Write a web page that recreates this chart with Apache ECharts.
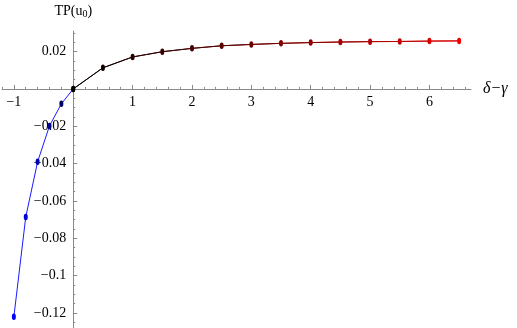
<!DOCTYPE html>
<html>
<head>
<meta charset="utf-8">
<script src="https://cdn.jsdelivr.net/npm/echarts@6/dist/echarts.min.js"></script>
<style>
  html, body { margin: 0; padding: 0; background: #fff; }
  #chart { width: 517px; height: 328px; }
</style>
</head>
<body>
<div id="chart"></div>
<script>
// δ-γ values and TP(u0)
const negX = [-1, -0.8, -0.6, -0.4, -0.2, 0]
const negY = [-0.122, -0.0686, -0.039, -0.0198, -0.008, 0]
const posX = [0, 0.5, 1, 1.5, 2, 2.5, 3, 3.5, 4, 4.5, 5, 5.5, 6, 6.5]
const posY = [0, 0.0113, 0.0171, 0.0199, 0.0217, 0.0231, 0.0238, 0.0244, 0.0248, 0.0251, 0.0253, 0.0254, 0.0256, 0.0257]

// tick labels
const xTicks = [-1, 0, 1, 2, 3, 4, 5, 6]
const xLabels = [-1, 1, 2, 3, 4, 5, 6]
const yTicks = [-0.12, -0.1, -0.08, -0.06, -0.04, -0.02, 0, 0.02]
const yLabels = [-0.12, -0.1, -0.08, -0.06, -0.04, -0.02, 0.02]

const X_MIN = -1.2, X_MAX = 6.7
const Y_MIN = -0.128, Y_MAX = 0.031

// minor ticks
const xMinor = []
for (let i = -6; i <= 33; i++) xMinor.push(+(i * 0.2).toFixed(2))
const yMinor = []
for (let i = -25; i <= 6; i++) yMinor.push(+(i * 0.005).toFixed(3))

const axisGray = '#8a8a8a'
const serif = '"Liberation Serif", "DejaVu Serif", serif'
const GRID = { left: 2, right: 46, top: 31, bottom: 0 }

function fmt(v) {
  const n = Number(v)
  return String(+n.toFixed(3)).replace('-', '\u2212')
}

function mix(a, b, t) {
  const r = Math.round(a[0] + (b[0] - a[0]) * t)
  const g = Math.round(a[1] + (b[1] - a[1]) * t)
  const bl = Math.round(a[2] + (b[2] - a[2]) * t)
  return 'rgb(' + r + ',' + g + ',' + bl + ')'
}

const posData = posX.map((x, i) => ({
  value: [x, posY[i]],
  itemStyle: { color: mix([0, 0, 0], [240, 0, 0], x / 6.5) }
}))
const negData = negX.map((x, i) => ({
  value: [x, negY[i]],
  itemStyle: { color: x === 0 ? '#000' : mix([0, 0, 60], [0, 0, 255], -x) }
}))

const labelStyle = { fontFamily: serif, fontSize: 14, color: '#000' }

const chart = echarts.init(document.getElementById('chart'))
chart.setOption({
  animation: false,
  textStyle: { fontFamily: serif, fontSize: 14, color: '#000' },
  grid: Object.assign({ containLabel: false, outerBoundsMode: 'none' }, GRID),
  xAxis: [{
    type: 'value',
    position: 'bottom',
    min: X_MIN,
    max: X_MAX,
    name: 'δ−γ',
    nameLocation: 'end',
    nameGap: 12,
    nameTextStyle: { fontFamily: serif, fontStyle: 'italic', fontSize: 16, color: '#000', verticalAlign: 'middle' },
    axisLine: { onZero: false, lineStyle: { color: axisGray, width: 1 } },
    axisTick: { show: true, inside: true, length: 4, customValues: xTicks, lineStyle: { color: axisGray } },
    axisLabel: Object.assign({ customValues: xLabels, formatter: fmt, margin: 6 }, labelStyle),
    splitLine: { show: false }
  }, {
    type: 'value',
    position: 'bottom',
    min: X_MIN,
    max: X_MAX,
    axisLine: { show: false, onZero: false },
    axisTick: { show: true, inside: true, length: 2, customValues: xMinor, lineStyle: { color: axisGray } },
    axisLabel: { show: false },
    splitLine: { show: false }
  }],
  yAxis: [{
    type: 'value',
    position: 'left',
    min: Y_MIN,
    max: Y_MAX,
    name: '{a|TP(u}{s|0}{a|)}',
    nameLocation: 'end',
    nameGap: 12,
    nameTextStyle: {
      rich: {
        a: { fontFamily: serif, fontSize: 14, color: '#000' },
        s: { fontFamily: serif, fontSize: 10, color: '#000', verticalAlign: 'bottom', padding: [6, 0, 0, 0] }
      }
    },
    axisLine: { onZero: false, lineStyle: { color: axisGray, width: 1 } },
    axisTick: { show: true, inside: true, length: 4, customValues: yTicks, lineStyle: { color: axisGray } },
    axisLabel: Object.assign({ customValues: yLabels, formatter: fmt, margin: 7 }, labelStyle),
    splitLine: { show: false }
  }, {
    type: 'value',
    position: 'left',
    min: Y_MIN,
    max: Y_MAX,
    axisLine: { show: false, onZero: false },
    axisTick: { show: true, inside: true, length: 2, customValues: yMinor, lineStyle: { color: axisGray } },
    axisLabel: { show: false },
    splitLine: { show: false }
  }],
  series: [{
    type: 'line',
    xAxisIndex: 0,
    yAxisIndex: 0,
    data: negData,
    symbol: 'circle',
    symbolSize: [4, 6.5],
    lineStyle: { color: '#1a1aff', width: 1 },
    z: 3
  }, {
    type: 'line',
    xAxisIndex: 0,
    yAxisIndex: 0,
    data: posData,
    symbol: 'circle',
    symbolSize: [4, 6.5],
    lineStyle: {
      width: 1,
      color: {
        type: 'linear', x: 0, y: 0, x2: 1, y2: 0,
        colorStops: [{ offset: 0, color: '#000' }, { offset: 1, color: '#e00000' }]
      }
    },
    z: 4
  }]
})

// move the axes so they cross at the data origin (labels go with them)
const origin = chart.convertToPixel({ gridIndex: 0 }, [0, 0])
const xOff = -(chart.getHeight() - GRID.bottom - origin[1])
const yOff = -(origin[0] - GRID.left)
chart.setOption({
  xAxis: [{ offset: xOff, axisLabel: labelStyle }, { offset: xOff }],
  yAxis: [{ offset: yOff, axisLabel: labelStyle }, { offset: yOff }]
})
</script>
</body>
</html>
